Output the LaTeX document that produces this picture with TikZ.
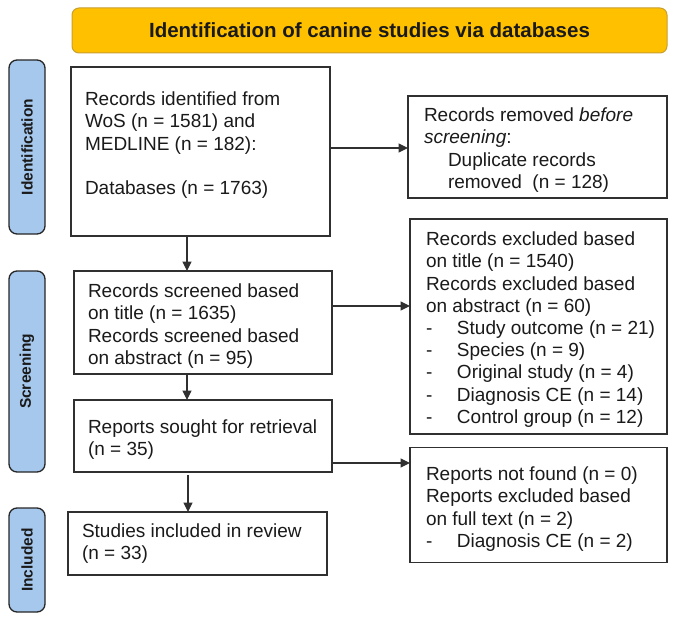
\documentclass[tikz,border=0pt]{standalone}
\usepackage{fontspec}
\setmainfont{Liberation Sans}
\usetikzlibrary{arrows.meta}
\definecolor{boxc}{HTML}{303030}
\definecolor{titlefill}{HTML}{FFC000}
\definecolor{titledraw}{HTML}{C8A030}
\definecolor{barfill}{HTML}{A6C8EC}
\definecolor{bardraw}{HTML}{262626}
\definecolor{txtc}{HTML}{1A1A1A}
\tikzset{
  pbox/.style={draw=boxc, line width=1.6pt, inner sep=0pt, outer sep=0pt, fill=white},
  titlebox/.style={draw=titledraw, line width=1pt, fill=titlefill, rounded corners=7pt, inner sep=0pt, outer sep=0pt,
    font=\fontsize{20.5}{24}\selectfont\bfseries, text=txtc},
  sidebar/.style={draw=bardraw, line width=1.3pt, fill=barfill, rounded corners=8pt, inner sep=0pt, outer sep=0pt},
  sidetext/.style={rotate=90, font=\fontsize{15.5}{18}\selectfont\bfseries, text=txtc, inner sep=0pt},
  btext/.style={anchor=north west, inner sep=0pt, outer sep=0pt, align=left, text=txtc,
    font=\fontsize{19}{22.2}\selectfont},
  arr/.style={draw=boxc, line width=1.1pt, -{Triangle[length=9.5pt,width=9pt]}}
}
\newcommand{\dashitem}[1]{\makebox[31pt][l]{-}#1}
\begin{document}
\begin{tikzpicture}[x=1pt,y=-1pt]
\useasboundingbox (0,0) rectangle (677,618);
% title
\node[titlebox, minimum width=595pt, minimum height=45pt] (title) at (369.5,30.5) {Identification of canine studies via databases};
% side bars
\node[sidebar, minimum width=36pt, minimum height=174pt] (bar1) at (27,147) {};
\node[sidetext] (s1) at (bar1.center) {Identification};
\node[sidebar, minimum width=36pt, minimum height=201pt] (bar2) at (27,371.5) {};
\node[sidetext] (s2) at (bar2.center) {Screening};
\node[sidebar, minimum width=36pt, minimum height=104pt] (bar3) at (27,560) {};
\node[sidetext] (s3) at (bar3.center) {Included};
% boxes
\node[pbox, minimum width=259pt, minimum height=169pt] (b1) at (200.5,151.5) {};
\node[btext] (t1) at (85,92) {Records identified from\\WoS (n = 1581) and\\MEDLINE (n = 182):\\[22.2pt]Databases (n = 1763)};
\node[pbox, minimum width=259pt, minimum height=102pt] (b2) at (537.5,147) {};
\node[btext] (t2) at (424,108) {Records removed \textit{before}\\\textit{screening}:\\\hspace*{24pt}Duplicate records\\\hspace*{24pt}removed\ \ (n = 128)};
\node[pbox, minimum width=257pt, minimum height=215pt] (b4) at (538.5,326.5) {};
\node[btext] (t4) at (426,232) {Records excluded based\\on title (n = 1540)\\Records excluded based\\on abstract (n = 60)\\\dashitem{Study outcome (n = 21)}\\\dashitem{Species (n = 9)}\\\dashitem{Original study (n = 4)}\\\dashitem{Diagnosis CE (n = 14)}\\\dashitem{Control group (n = 12)}};
\node[pbox, minimum width=258pt, minimum height=103pt] (b3) at (203,322.5) {};
\node[btext] (t3) at (88,284) {Records screened based\\on title (n = 1635)\\Records screened based\\on abstract (n = 95)};
\node[pbox, minimum width=258pt, minimum height=72pt] (b5) at (203,436) {};
\node[btext] (t5) at (88,420) {Reports sought for retrieval\\(n = 35)};
\node[pbox, minimum width=257pt, minimum height=115pt] (b6) at (538.5,505) {};
\node[btext] (t6) at (426,467) {Reports not found (n = 0)\\Reports excluded based\\on full text (n = 2)\\\dashitem{Diagnosis CE (n = 2)}};
\node[pbox, minimum width=259pt, minimum height=63pt] (b7) at (197.5,543.5) {};
\node[btext] (t7) at (82,524) {Studies included in review\\(n = 33)};
% connector guides
\coordinate (xa) at (187,0);
\coordinate (xb) at (188,0);
\coordinate (ya) at (0,148);
\coordinate (yb) at (0,306);
\coordinate (yc) at (0,463);
% connectors
\draw[arr] (b1.east |- ya) -- (b2.west |- ya);
\draw[arr] (b1.south -| xa) -- (b3.north -| xa);
\draw[arr] (b3.east |- yb) -- (b4.west |- yb);
\draw[arr] (b3.south -| xa) -- (b5.north -| xa);
\draw[arr] (b5.east |- yc) -- (b6.west |- yc);
\draw[arr] ([yshift=-3pt]b5.south -| xb) -- (b7.north -| xb);
\end{tikzpicture}
\end{document}
